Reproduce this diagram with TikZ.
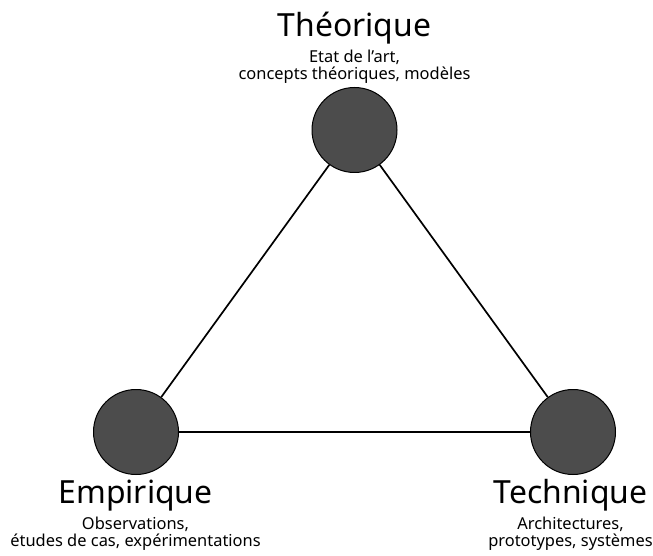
\documentclass[tikz,border=0pt]{standalone}
\usepackage{fontspec}
\setmainfont{Noto Sans}
\usetikzlibrary{arrows}

\begin{document}
\begin{tikzpicture}[x=1bp,y=-1bp,
    pole/.style={circle,draw=black,line width=1bp,fill=black!70,minimum size=85bp,inner sep=0pt},
    title/.style={anchor=base,font=\fontsize{32}{32}\selectfont,inner sep=0pt},
    sub/.style={anchor=base,font=\fontsize{16.5}{18}\selectfont,inner sep=0pt}]
  \useasboundingbox (0,0) rectangle (653,556);

  \node[pole] (th) at (354.5,130) {};
  \node[pole] (em) at (136,432) {};
  \node[pole] (te) at (573,432) {};

  \node[title] (thT) at (354.5,36.5) {Théorique};
  \node[sub] (thA) at (354.5,62.5) {Etat de l'art,};
  \node[sub] (thB) at (354.5,80) {concepts théoriques, modèles};

  \node[title] (emT) at (135.5,503) {Empirique};
  \node[sub] (emA) at (135.5,529) {Observations,};
  \node[sub] (emB) at (135.5,546) {études de cas, expérimentations};

  \node[title] (teT) at (570.5,503) {Technique};
  \node[sub] (teA) at (570.5,529) {Architectures,};
  \node[sub] (teB) at (570.5,546) {prototypes, systèmes};

  \path[draw,line width=1.7bp]
    (th) edge (em)
         edge (te)
    (em) edge (te);

\end{tikzpicture}
\end{document}
